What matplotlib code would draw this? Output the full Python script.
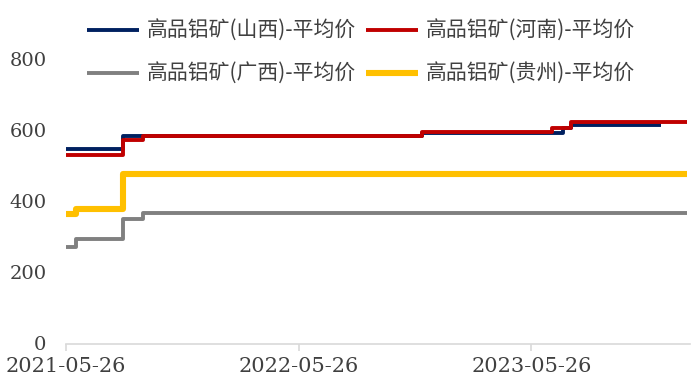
import matplotlib
matplotlib.use("Agg")
import matplotlib.pyplot as plt
import matplotlib.dates as mdates
import pandas as pd

# step prices (yuan/t), each value holds until the next date
shanxi_dates = ["2021-05-26", "2021-08-24", "2022-12-05", "2023-07-14", "2023-07-28", "2023-12-16"]
shanxi_vals = [545, 583, 592, 605, 614, 614]

henan_dates = ["2021-05-26", "2021-08-24", "2021-09-24", "2022-12-05", "2023-06-28", "2023-07-28", "2024-01-26"]
henan_vals = [530, 572, 583, 593, 605, 622, 622]

guangxi_dates = ["2021-05-26", "2021-06-10", "2021-08-24", "2021-09-24", "2024-01-26"]
guangxi_vals = [272, 292, 350, 365, 365]

guizhou_dates = ["2021-05-26", "2021-06-11", "2021-08-24", "2024-01-26"]
guizhou_vals = [364, 378, 477, 477]

labels = ["高品铝矿(山西)-平均价", "高品铝矿(河南)-平均价",
          "高品铝矿(广西)-平均价", "高品铝矿(贵州)-平均价"]
tick_dates = ["2021-05-26", "2022-05-26", "2023-05-26"]

fig = plt.figure(figsize=(6.91, 3.78), dpi=100)
ax = fig.add_axes([66 / 691, (378 - 343.5) / 378, 624 / 691, 285 / 378])

def step(d, v, color, lw):
    return ax.plot(pd.to_datetime(d), v, drawstyle="steps-post", color=color,
                   linewidth=lw, solid_capstyle="butt")[0]

l_sx = step(shanxi_dates, shanxi_vals, "#002060", 2.8)
l_hn = step(henan_dates, henan_vals, "#C00000", 2.8)
l_gx = step(guangxi_dates, guangxi_vals, "#808080", 2.8)
l_gz = step(guizhou_dates, guizhou_vals, "#FFC000", 4.4)

ax.set_ylim(0, 800)
ax.set_yticks([0, 200, 400, 600, 800])
ax.set_xlim(pd.Timestamp("2021-05-26"), pd.Timestamp("2024-01-30"))
ax.set_xticks(pd.to_datetime(tick_dates))
ax.xaxis.set_major_formatter(mdates.DateFormatter("%Y-%m-%d"))

for s in ["top", "right", "left"]:
    ax.spines[s].set_visible(False)
ax.spines["bottom"].set_color("#d9d9d9")
ax.spines["bottom"].set_linewidth(1.2)
ax.tick_params(axis="x", direction="out", length=5, width=1.2, color="#d9d9d9",
               pad=5, labelsize=15, labelcolor="#404040")
ax.tick_params(axis="y", length=0, pad=14, labelsize=14, labelcolor="#404040")
for t in ax.get_xticklabels() + ax.get_yticklabels():
    t.set_fontfamily("DejaVu Serif")

# legend: two rows, filled column-wise
fig.legend([l_sx, l_gx, l_hn, l_gz], [labels[0], labels[2], labels[1], labels[3]],
           ncol=2, loc="upper left", bbox_to_anchor=(87 / 691, 1 - 20 / 378),
           frameon=False, borderpad=0, borderaxespad=0,
           handlelength=2.5, handletextpad=0.35, columnspacing=0.5,
           labelspacing=1.0,
           prop={"family": ["Noto Sans CJK SC", "DejaVu Sans"], "size": 15},
           labelcolor="#404040")

fig.savefig("out.png", dpi=100)
